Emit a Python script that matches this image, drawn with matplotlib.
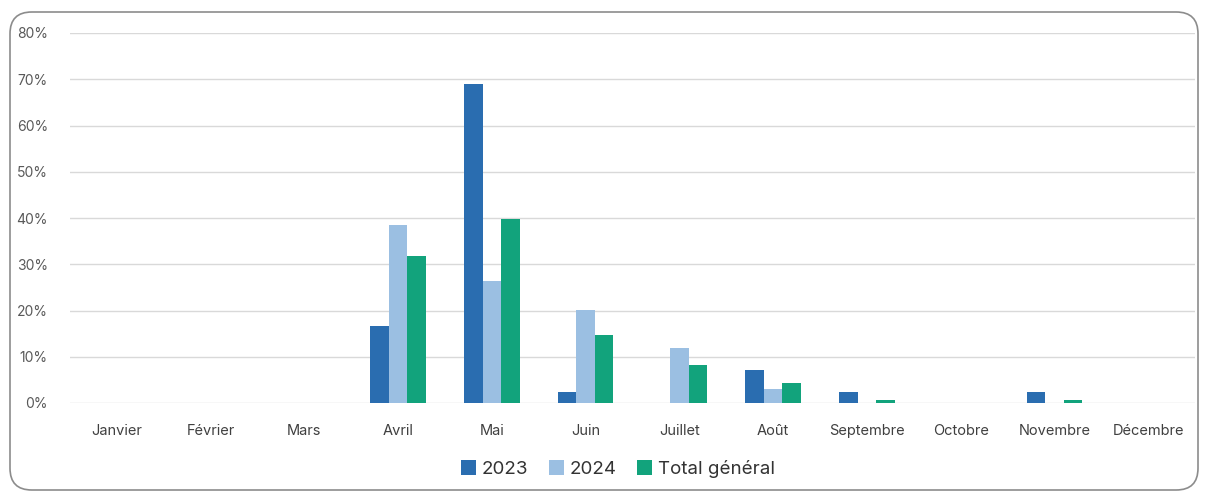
import matplotlib
matplotlib.use("Agg")
import matplotlib.pyplot as plt
from matplotlib.patches import FancyBboxPatch
from matplotlib.ticker import FuncFormatter
import numpy as np

months = ["Janvier", "Février", "Mars", "Avril", "Mai", "Juin", "Juillet",
          "Août", "Septembre", "Octobre", "Novembre", "Décembre"]
s2023 = [0, 0, 0, 16.7, 69.0, 2.4, 0, 7.2, 2.4, 0, 2.4, 0]
s2024 = [0, 0, 0, 38.5, 26.4, 20.1, 11.8, 3.0, 0, 0, 0, 0]
total = [0, 0, 0, 31.8, 39.7, 14.6, 8.2, 4.4, 0.6, 0, 0.6, 0]
series_names = ["2023", "2024", "Total général"]
colors = ["#2a6db0", "#9bbfe2", "#12a37c"]

plt.rcParams['font.family'] = ['Inter', 'DejaVu Sans']

fig = plt.figure(figsize=(12.09, 4.97), dpi=100)
border = FancyBboxPatch((10/1209, 7/497), 1188/1209, 478/497,
                        boxstyle="round,pad=0,rounding_size=0.018",
                        transform=fig.transFigure, facecolor="white",
                        edgecolor="#8c8c8c", linewidth=1.2, mutation_aspect=1209/497,
                        zorder=-10)
fig.patches.append(border)

ax = fig.add_axes([70/1209, 1-403/497, 1125/1209, 370/497])
ax.set_zorder(5)
ax.set_facecolor("none")
x = np.arange(len(months))
w = 0.197
for i, (vals, name, c) in enumerate(zip([s2023, s2024, total], series_names, colors)):
    ax.bar(x + (i-1)*w, vals, width=w, color=c, label=name, zorder=3)

ax.set_xlim(-0.5, len(months)-0.5)
ax.set_ylim(0, 80)
ax.set_yticks(np.arange(0, 81, 10))
ax.yaxis.set_major_formatter(FuncFormatter(lambda v, p: f"{int(v)}%"))
ax.grid(axis='y', color="#d9d9d9", linewidth=1, zorder=0)
ax.set_axisbelow(True)
ax.set_xticks(x)
ax.set_xticklabels(months)
ax.tick_params(axis='both', length=0, labelsize=10.5, labelcolor="#404040")
ax.tick_params(axis='x', pad=15)
ax.tick_params(axis='y', pad=16, labelsize=10, labelcolor="#595959")
for s in ax.spines.values():
    s.set_visible(False)

fig.legend(loc='center', bbox_to_anchor=(618/1209, 1-469/497), ncol=3,
           frameon=False, fontsize=13.5, handlelength=0.8, handleheight=0.8,
           handletextpad=0.3, columnspacing=1.1, labelcolor="#333333")

fig.savefig("out.png", dpi=100)
